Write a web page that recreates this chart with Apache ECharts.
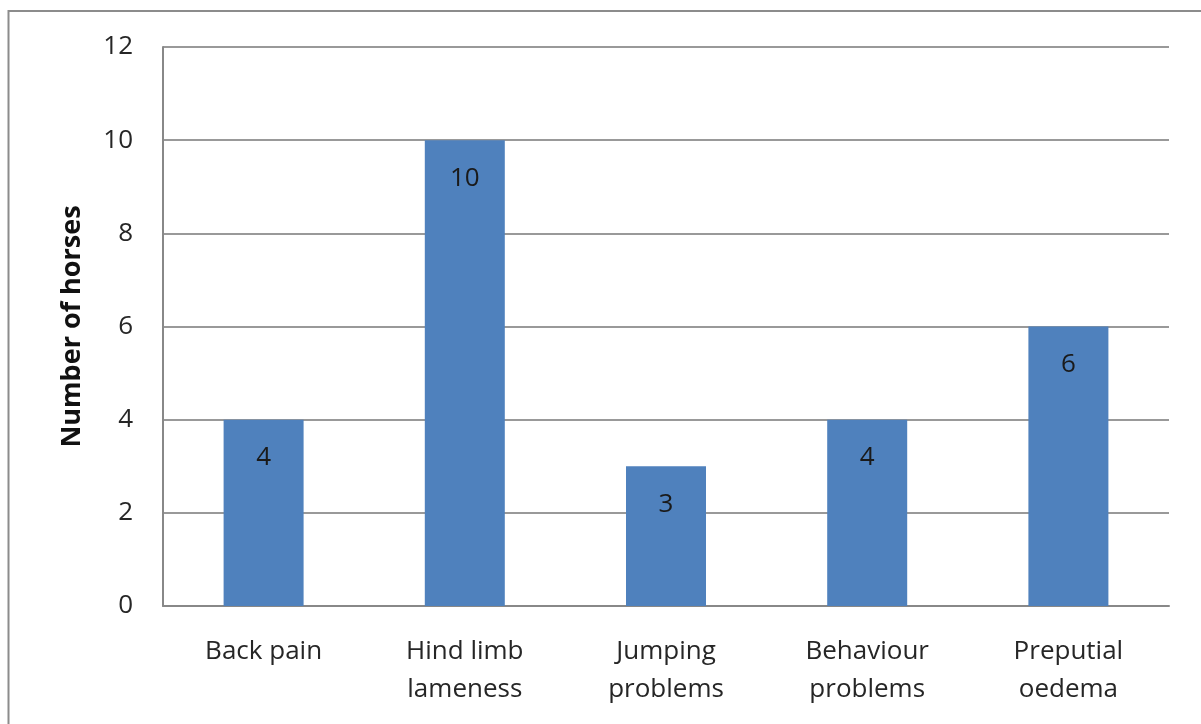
<!DOCTYPE html>
<html>
<head>
<meta charset="utf-8">
<style>
  html, body { margin: 0; padding: 0; background: #fff; }
  #chart { width: 1201px; height: 724px; }
</style>
<script src="https://cdn.jsdelivr.net/npm/echarts@6/dist/echarts.min.js"></script>
</head>
<body>
<div id="chart"></div>
<script>
const categories = ['Back pain', 'Hind limb\nlameness', 'Jumping\nproblems', 'Behaviour\nproblems', 'Preputial\noedema']
const horses = [4, 10, 3, 4, 6]
const yTicks = [0, 2, 4, 6, 8, 10, 12]

const fontFam = '"Open Sans", "Noto Sans", sans-serif'
const chart = echarts.init(document.getElementById('chart'), null, { renderer: 'canvas' })

chart.setOption({
  backgroundColor: '#fff',
  animation: false,
  // 外框
  graphic: [{
    type: 'rect',
    shape: { x: 8.5, y: 11, width: 1210, height: 730 },
    style: { fill: 'none', stroke: '#8c8c8c', lineWidth: 2 },
    silent: true
  }],
  grid: { left: 163, top: 47, right: 32, bottom: 118 },
  xAxis: {
    type: 'category',
    data: categories,
    axisLine: { lineStyle: { color: '#888', width: 2 } },
    axisTick: { show: false },
    axisLabel: {
      interval: 0,
      margin: 27,
      color: '#262626',
      fontSize: 26,
      lineHeight: 38,
      fontFamily: fontFam
    }
  },
  yAxis: {
    type: 'value',
    min: yTicks[0],
    max: yTicks[yTicks.length - 1],
    interval: 2,
    name: 'Number of horses',
    nameLocation: 'middle',
    nameGap: 77,
    nameTextStyle: { fontSize: 27, fontWeight: 'bold', color: '#111', fontFamily: fontFam },
    axisLine: { show: true, lineStyle: { color: '#888', width: 2 } },
    axisTick: { show: false },
    axisLabel: { margin: 30, color: '#262626', fontSize: 26, fontFamily: fontFam },
    splitLine: { lineStyle: { color: '#999', width: 2 } }
  },
  series: [{
    type: 'bar',
    data: horses,
    barWidth: 80,
    itemStyle: { color: '#4f81bd' },
    label: {
      show: true,
      position: 'insideTop',
      distance: 25,
      color: '#1a1a1a',
      fontSize: 26,
      fontFamily: fontFam
    }
  }]
})
</script>
</body>
</html>
